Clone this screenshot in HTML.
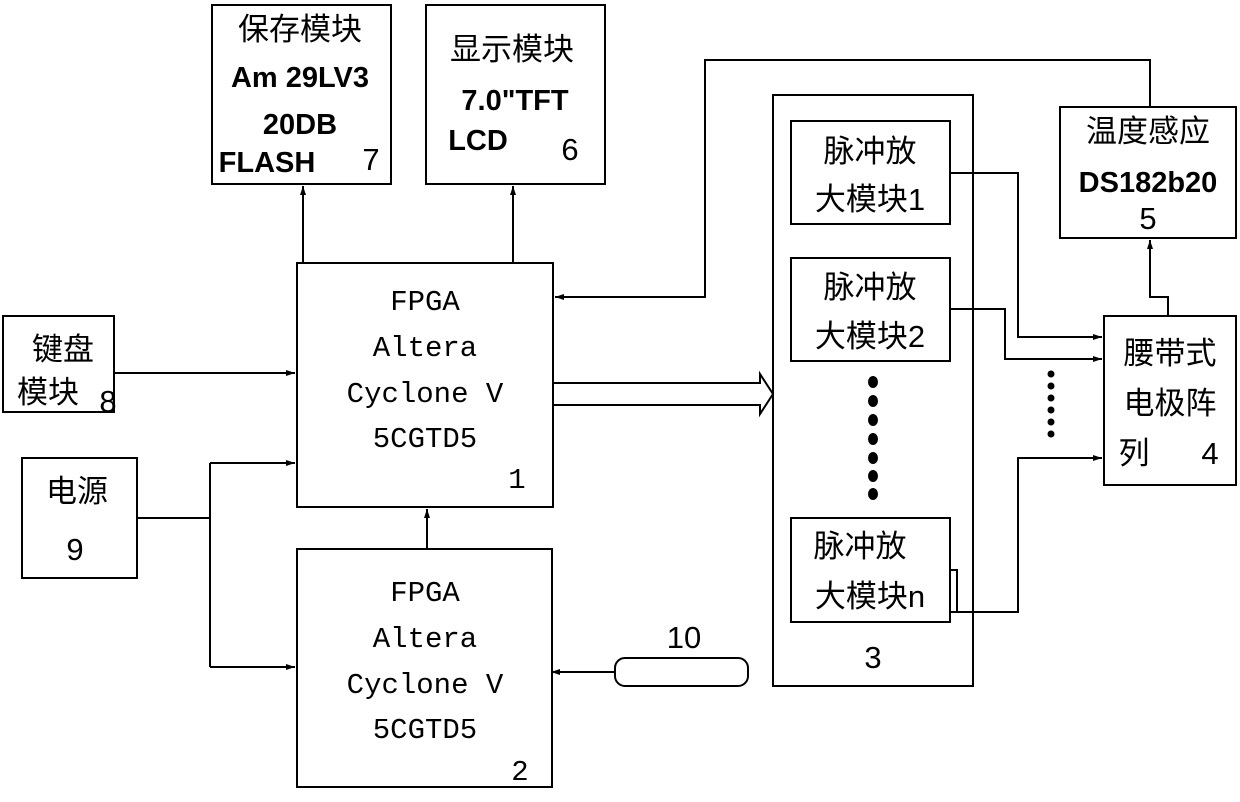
<!DOCTYPE html>
<html><head><meta charset="utf-8"><style>
html,body{margin:0;padding:0;background:#fff;}
svg{display:block}
.c{font-family:"Liberation Sans","Noto Sans CJK SC",sans-serif;font-size:31px;fill:#000;text-anchor:middle}
.b{font-family:"Liberation Sans","Noto Sans CJK SC",sans-serif;font-size:29px;font-weight:bold;fill:#000;text-anchor:middle}
.m{font-family:"Liberation Mono","Noto Serif CJK SC",monospace;font-size:29px;fill:#000;text-anchor:middle}
</style></head><body>
<svg width="1240" height="802" viewBox="0 0 1240 802" xmlns="http://www.w3.org/2000/svg">
<defs><marker id="a" markerWidth="10" markerHeight="8" refX="9" refY="4" orient="auto" markerUnits="userSpaceOnUse"><path d="M0,1 L9,4 L0,7 Z" fill="#000"/></marker></defs>
<g fill="none" stroke="#000" stroke-width="2">
<rect x="212" y="5" width="179" height="179"/>
<rect x="426" y="5" width="179" height="179"/>
<rect x="297" y="263" width="256" height="244"/>
<rect x="297" y="549" width="255" height="238"/>
<rect x="3" y="316" width="111" height="96"/>
<rect x="22" y="458" width="115" height="120"/>
<rect x="773" y="95" width="200" height="591"/>
<rect x="791" y="121" width="159" height="103"/>
<rect x="791" y="258" width="159" height="103"/>
<rect x="791" y="518" width="159" height="104"/>
<rect x="1060" y="107" width="176" height="131"/>
<rect x="1104" y="316" width="132" height="169"/>
<rect x="615" y="658" width="133" height="28" rx="10"/>
<path d="M303 263 V186" marker-end="url(#a)"/>
<path d="M513 263 V186" marker-end="url(#a)"/>
<path d="M427 549 V509" marker-end="url(#a)"/>
<path d="M114 373 H295" marker-end="url(#a)"/>
<path d="M137 518 H210 M210 463 V667 M210 463 H295" marker-end="url(#a)"/>
<path d="M210 667 H295" marker-end="url(#a)"/>
<path d="M615 672 H551" marker-end="url(#a)"/>
<path d="M1150 107 V60 H705 V297 H555" marker-end="url(#a)"/>
<path d="M553 383 H760 V374 L773 394 L760 414 V405 H553"/>
<path d="M950 173 H1018 V337 H1102" marker-end="url(#a)"/>
<path d="M950 309 H1005 V359 H1102" marker-end="url(#a)"/>
<path d="M950 612 H1018 V458 H1102" marker-end="url(#a)"/>
<path d="M1168 316 V297 H1150 V240" marker-end="url(#a)"/>
<path d="M950 570 H957 V612"/>
</g>
<g fill="#000">
<ellipse cx="873" cy="382" rx="5" ry="6"/><ellipse cx="873" cy="401" rx="5" ry="6"/><ellipse cx="873" cy="420" rx="5" ry="6"/><ellipse cx="873" cy="439" rx="5" ry="6"/><ellipse cx="873" cy="458" rx="5" ry="6"/><ellipse cx="873" cy="476" rx="5" ry="6"/><ellipse cx="873" cy="494" rx="5" ry="6"/>
<circle cx="1051" cy="374" r="3.5"/><circle cx="1051" cy="386" r="3.5"/><circle cx="1051" cy="398" r="3.5"/><circle cx="1051" cy="410" r="3.5"/><circle cx="1051" cy="422" r="3.5"/><circle cx="1051" cy="434" r="3.5"/>
</g>
<text class="c" x="300" y="40">保存模块</text>
<text class="b" x="300" y="87">Am 29LV3</text>
<text class="b" x="300" y="134">20DB</text>
<text class="b" x="267" y="172">FLASH</text>
<text class="c" x="371" y="170" font-size="28">7</text>
<text class="c" x="512" y="60">显示模块</text>
<text class="b" x="515" y="110">7.0"TFT</text>
<text class="b" x="478" y="150">LCD</text>
<text class="c" x="570" y="160">6</text>
<text class="m" x="425" y="310">FPGA</text>
<text class="m" x="425" y="356">Altera</text>
<text class="m" x="425" y="402">Cyclone V</text>
<text class="m" x="425" y="447">5CGTD5</text>
<text class="m" x="517" y="488">1</text>
<text class="m" x="425" y="601">FPGA</text>
<text class="m" x="425" y="647">Altera</text>
<text class="m" x="425" y="693">Cyclone V</text>
<text class="m" x="425" y="738">5CGTD5</text>
<text class="m" x="520" y="780">2</text>
<text class="c" x="63" y="360">键盘</text>
<text class="c" x="48" y="403">模块</text>
<text class="c" x="108" y="412">8</text>
<text class="c" x="77" y="502">电源</text>
<text class="c" x="75" y="560">9</text>
<text class="c" x="870" y="162">脉冲放</text>
<text class="c" x="870" y="210">大模块1</text>
<text class="c" x="870" y="298">脉冲放</text>
<text class="c" x="870" y="347">大模块2</text>
<text class="c" x="860" y="557">脉冲放</text>
<text class="c" x="870" y="607">大模块n</text>
<text class="c" x="873" y="668">3</text>
<text class="c" x="684" y="648">10</text>
<text class="c" x="1148" y="142">温度感应</text>
<text class="b" x="1148" y="192">DS182b20</text>
<text class="c" x="1148" y="229">5</text>
<text class="c" x="1170" y="364">腰带式</text>
<text class="c" x="1170" y="414">电极阵</text>
<text class="c" x="1134" y="464">列</text>
<text class="c" x="1210" y="464">4</text>
</svg>
</body></html>
